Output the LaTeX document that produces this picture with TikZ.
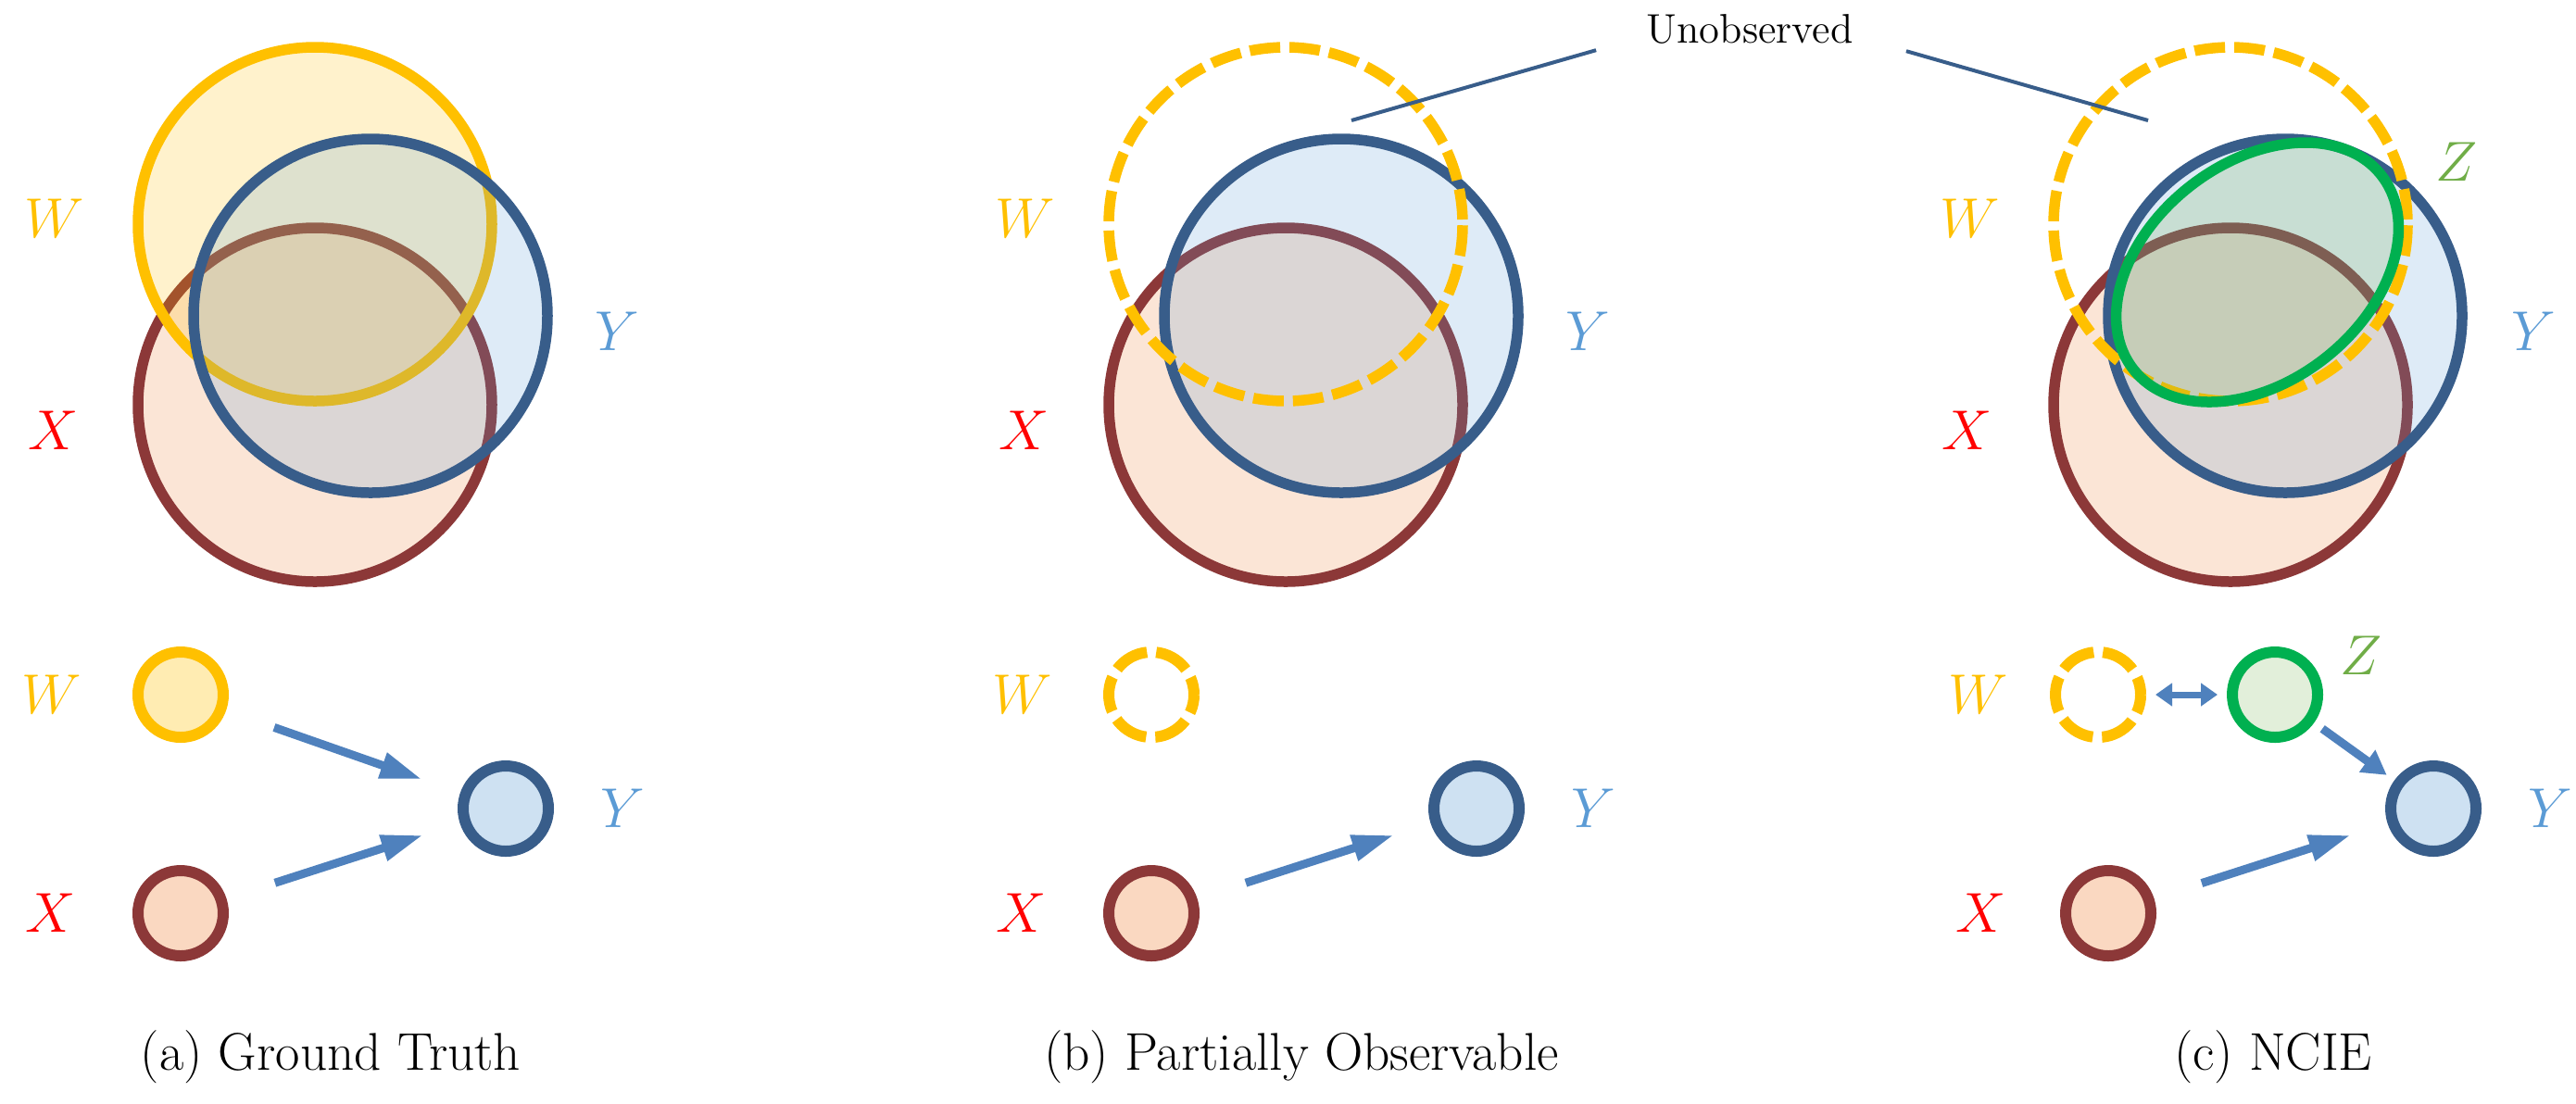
\documentclass[tikz,border=0pt]{standalone}
\usepackage{xcolor}
\usepackage{tikz}
\usetikzlibrary{arrows.meta,positioning,calc}
\definecolor{wyellow}{HTML}{FFC000}
\definecolor{xbrown}{RGB}{140,56,56}
\definecolor{xorange}{HTML}{ED7D31}
\definecolor{xred}{HTML}{FF0000}
\definecolor{ynavy}{HTML}{385D8A}
\definecolor{yblue}{HTML}{5B9BD5}
\definecolor{zgreen}{HTML}{00B050}
\definecolor{zolive}{HTML}{70AD47}
\definecolor{arrowblue}{HTML}{4F81BD}

\begin{document}
\begin{tikzpicture}[
        venn/.style={line width=1.15mm},
        xset/.style={venn,draw=xbrown,fill=xorange,fill opacity=0.2},
        wset/.style={venn,draw=wyellow,fill=wyellow,fill opacity=0.2},
        yset/.style={venn,draw=ynavy,fill=yblue,fill opacity=0.2},
        zset/.style={venn,draw=zgreen,fill=zolive,fill opacity=0.2},
        wmiss/.style={venn,draw=wyellow,dash pattern=on 3.3mm off 1mm,dash phase=3.8mm},
        var/.style={circle,line width=1.2mm,minimum size=9.2mm,inner sep=0pt},
        hidden/.style={var,draw=wyellow,dash pattern=on 3.8mm off 1mm,dash phase=1.9mm},
        lbl/.style={inner sep=0pt,font=\fontsize{18}{20}\selectfont},
        captext/.style={anchor=base,inner sep=0pt,font=\fontsize{16.3}{20}\selectfont},
        edge/.style={-{Triangle[length=4.5mm,width=2.7mm]},line width=0.9mm,arrowblue},
        pointer/.style={line width=0.4mm,ynavy}
    ]
    \useasboundingbox (0,0) rectangle (27.81,-11.91);

    % (a) ground truth
    \draw[xset] (3.40,-4.37) circle (1.91);
    \draw[wset] (3.40,-2.42) circle (1.91);
    \draw[yset] (4.00,-3.41) circle (1.91);
    \node[lbl,text=wyellow] (wta) at (0.59,-2.36) {$W$};
    \node[lbl,text=xred] (xta) at (0.58,-4.65) {$X$};
    \node[lbl,text=yblue] (yta) at (6.66,-3.58) {$Y$};

    \node[var,draw=wyellow,fill=wyellow!30] (wa) at (1.95,-7.50) {};
    \node[var,draw=xbrown,fill=xorange!30] (xa) at (1.95,-9.86) {};
    \node[var,draw=ynavy,fill=yblue!30] (ya) at (5.46,-8.73) {};
    \node[lbl,text=wyellow,left=0.54cm of wa] (wla) {$W$};
    \node[lbl,text=xred,left=0.61cm of xa] (xla) {$X$};
    \node[lbl,text=yblue,right=0.50cm of ya] (yla) {$Y$};
    \draw[edge,shorten <=5.5mm,shorten >=4.4mm] (wa) -- (ya);
    \draw[edge,shorten <=5.5mm,shorten >=4.2mm] (xa) -- (ya);
    \node[captext] (capa) at (3.57,-11.55) {(a) Ground Truth};

    % (b) partially observable
    \begin{scope}[xshift=10.48cm]
        \draw[xset] (3.40,-4.37) circle (1.91);
        \draw[yset] (4.00,-3.41) circle (1.91);
        \draw[wmiss] (3.40,-2.42) circle (1.91);
        \node[lbl,text=wyellow] (wtb) at (0.59,-2.36) {$W$};
        \node[lbl,text=xred] (xtb) at (0.58,-4.65) {$X$};
        \node[lbl,text=yblue] (ytb) at (6.66,-3.58) {$Y$};

        \node[hidden] (wb) at (1.95,-7.50) {};
        \node[var,draw=xbrown,fill=xorange!30] (xb) at (1.95,-9.86) {};
        \node[var,draw=ynavy,fill=yblue!30] (yb) at (5.46,-8.73) {};
        \node[lbl,text=wyellow,left=0.54cm of wb] (wlb) {$W$};
        \node[lbl,text=xred,left=0.61cm of xb] (xlb) {$X$};
        \node[lbl,text=yblue,right=0.50cm of yb] (ylb) {$Y$};
        \draw[edge,shorten <=5.5mm,shorten >=4.2mm] (xb) -- (yb);
        \node[captext] (capb) at (3.57,-11.55) {(b) Partially Observable};
    \end{scope}

    % (c) NCIE
    \begin{scope}[xshift=20.68cm]
        \draw[xset] (3.40,-4.37) circle (1.91);
        \draw[yset] (3.99,-3.41) circle (1.91);
        \draw[wmiss] (3.40,-2.42) circle (1.91);
        \draw[zset,rotate around={38:(3.69,-2.94)}] (3.69,-2.94) ellipse (1.70 and 1.18);
        \node[lbl,text=wyellow] (wtc) at (0.59,-2.36) {$W$};
        \node[lbl,text=xred] (xtc) at (0.56,-4.65) {$X$};
        \node[lbl,text=yblue] (ytc) at (6.67,-3.58) {$Y$};
        \node[lbl,text=zolive] (ztc) at (5.84,-1.75) {$Z$};

        \node[hidden] (wc) at (1.97,-7.50) {};
        \node[var,draw=zgreen,fill=zolive!20] (zc) at (3.88,-7.50) {};
        \node[var,draw=xbrown,fill=xorange!30] (xc) at (2.08,-9.86) {};
        \node[var,draw=ynavy,fill=yblue!30] (yc) at (5.59,-8.73) {};
        \node[lbl,text=wyellow,left=0.44cm of wc] (wlc) {$W$};
        \node[lbl,text=xred,left=0.58cm of xc] (xlc) {$X$};
        \node[lbl,text=yblue,right=0.50cm of yc] (ylc) {$Y$};
        \node[lbl,text=zolive] (zlc) at (4.81,-7.08) {$Z$};
        \draw[{Triangle[length=1.8mm,width=2.4mm]}-{Triangle[length=1.8mm,width=2.4mm]},
              line width=0.7mm,arrowblue,shorten <=1mm,shorten >=1mm] (wc) -- (zc);
        \draw[-{Triangle[length=2.6mm,width=2.8mm]},line width=0.9mm,arrowblue,
              shorten <=1.1mm,shorten >=1mm] (zc) -- (yc);
        \draw[edge,shorten <=5.4mm,shorten >=4.2mm] (xc) -- (yc);
        \node[captext] (capc) at (3.86,-11.55) {(c) NCIE};
    \end{scope}

    \node[inner sep=0pt,font=\fontsize{12.7}{15}\selectfont] (unobs) at (18.89,-0.315) {Unobserved};
    \coordinate (pb) at (14.59,-1.30);
    \coordinate (pc) at (23.19,-1.30);
    \draw[pointer] ($(unobs.south west)+(-0.54,-0.06)$) -- (pb);
    \draw[pointer] ($(unobs.south east)+(0.57,-0.07)$) -- (pc);
\end{tikzpicture}
\end{document}
